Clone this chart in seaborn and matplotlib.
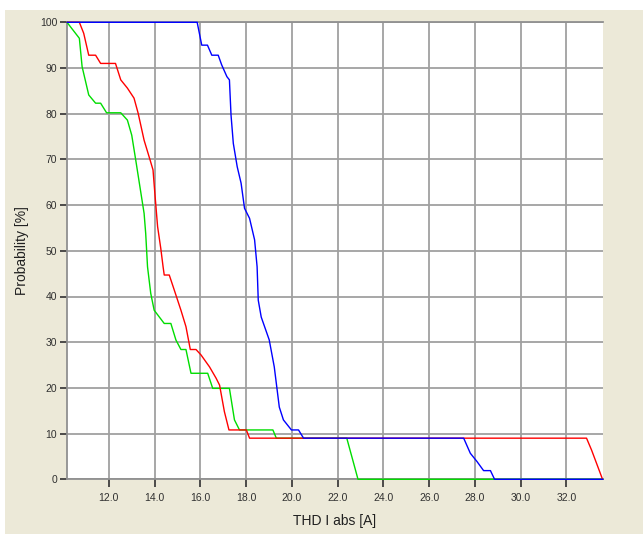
import matplotlib
matplotlib.use("Agg")
import matplotlib.pyplot as plt
import seaborn as sns
import pandas as pd
from matplotlib.patches import Rectangle

# kurven (THD I abs [A] gegen Wahrscheinlichkeit [%])
green_x = [10.17, 10.71, 10.83, 11.12, 11.42, 11.64, 11.90, 12.52, 12.81, 13.00, 13.17, 13.38,
           13.54, 13.61, 13.69, 13.83, 13.98, 14.42, 14.71, 14.93, 15.15, 15.37, 15.59, 16.32,
           16.54, 17.27, 17.49, 17.71, 19.17, 19.32, 22.40, 22.70, 22.89, 33.60]
green_y = [100, 96.5, 90.3, 84.1, 82.3, 82.3, 80.2, 80.2, 78.6, 75.3, 70.0, 63.3,
           58.2, 53.8, 46.5, 40.7, 37.0, 34.1, 34.1, 30.5, 28.4, 28.4, 23.2, 23.2,
           19.9, 19.9, 13.0, 10.8, 10.8, 9.0, 9.0, 3.5, 0, 0]

red_x = [10.17, 10.71, 10.90, 11.12, 11.42, 11.64, 12.29, 12.52, 12.81, 13.10, 13.28, 13.54,
         13.80, 13.93, 14.01, 14.13, 14.27, 14.37, 14.42, 14.64, 14.86, 15.15, 15.37, 15.56,
         15.81, 16.03, 16.40, 16.69, 16.84, 17.05, 17.25, 18.01, 18.15, 32.88, 33.10, 33.58]
red_y = [100, 100, 97.6, 92.8, 92.8, 91.0, 91.0, 87.4, 85.6, 83.4, 80.1, 74.2,
         69.9, 67.7, 62.6, 55.3, 50.5, 46.5, 44.7, 44.7, 41.4, 37.0, 33.4, 28.4,
         28.4, 27.2, 24.6, 22.1, 20.6, 14.8, 10.8, 10.8, 9.0, 9.0, 6.4, 0]

blue_x = [10.17, 15.86, 16.06, 16.31, 16.50, 16.78, 16.93, 17.16, 17.27, 17.34, 17.44, 17.61,
          17.78, 17.93, 18.15, 18.37, 18.48, 18.53, 18.66, 19.01, 19.23, 19.45, 19.63, 19.98,
          20.29, 20.51, 27.51, 27.80, 28.09, 28.38, 28.68, 28.86, 33.60]
blue_y = [100, 100, 95.0, 95.0, 92.8, 92.8, 90.7, 88.1, 87.4, 79.7, 73.5, 68.4,
          64.8, 59.3, 57.1, 52.4, 46.5, 39.2, 35.5, 30.5, 24.6, 15.8, 13.0, 10.8,
          10.8, 9.0, 9.0, 5.7, 3.9, 1.9, 1.9, 0, 0]

x_ticks = [12, 14, 16, 18, 20, 22, 24, 26, 28, 30, 32]
y_ticks = [0, 10, 20, 30, 40, 50, 60, 70, 80, 90, 100]

kurven = {"gruen": (green_x, green_y), "rot": (red_x, red_y), "blau": (blue_x, blue_y)}
farben = {"gruen": "#00dd00", "rot": "#ff0000", "blau": "#0000ff"}

frames = []
for name, (xs, ys) in kurven.items():
    frames.append(pd.DataFrame({"x": xs, "y": ys, "serie": name, "idx": range(len(xs))}))
df = pd.concat(frames, ignore_index=True)

sns.set_style("white", {"xtick.bottom": True, "ytick.left": True})
plt.rcParams['font.family'] = ['Liberation Sans', 'DejaVu Sans']
plt.rcParams['xtick.major.size'] = 6
plt.rcParams['ytick.major.size'] = 5
plt.rcParams['xtick.major.width'] = 1.2
plt.rcParams['ytick.major.width'] = 1.2

fig = plt.figure(figsize=(6.43, 5.34), dpi=100, facecolor="white")
# beiger hintergrund wie im windows-fenster
fig.patches.append(Rectangle((5 / 643, 0), 1, 1 - 10 / 534, transform=fig.transFigure,
                             facecolor="#ece9d8", edgecolor="none", zorder=-10))
ax = fig.add_axes([67 / 643, 1 - 479.3 / 534, (603 - 67) / 643, (479.3 - 22.3) / 534])
ax.set_facecolor("white")

for name in ["gruen", "rot", "blau"]:
    sns.lineplot(data=df[df.serie == name], x="x", y="y", sort=False, estimator=None,
                 color=farben[name], linewidth=1.0, ax=ax, clip_on=False, zorder=3)

ax.set_xlim(10.17, 33.6)
ax.set_ylim(0, 100)
ax.set_xticks(x_ticks)
ax.set_xticklabels(["{:.1f}".format(v) for v in x_ticks])
ax.set_yticks(y_ticks)
ax.grid(True, color="#a0a0a0", linewidth=1.3)
ax.set_axisbelow(True)

for s in ["left", "bottom", "top"]:
    ax.spines[s].set_color("#909090")
    ax.spines[s].set_linewidth(1.3)
ax.spines["right"].set_visible(False)

ax.tick_params(axis="both", direction="out", color="#303030",
               labelsize=7.5, labelcolor="#303030", pad=2, bottom=True, left=True)
ax.tick_params(axis="x", pad=4)

ax.set_xlabel("THD I abs [A]", fontsize=10, color="#202020", labelpad=8)
ax.set_ylabel("Probability [%]", fontsize=10, color="#202020", labelpad=8)

plt.savefig("out.png", dpi=100, facecolor=fig.get_facecolor())
